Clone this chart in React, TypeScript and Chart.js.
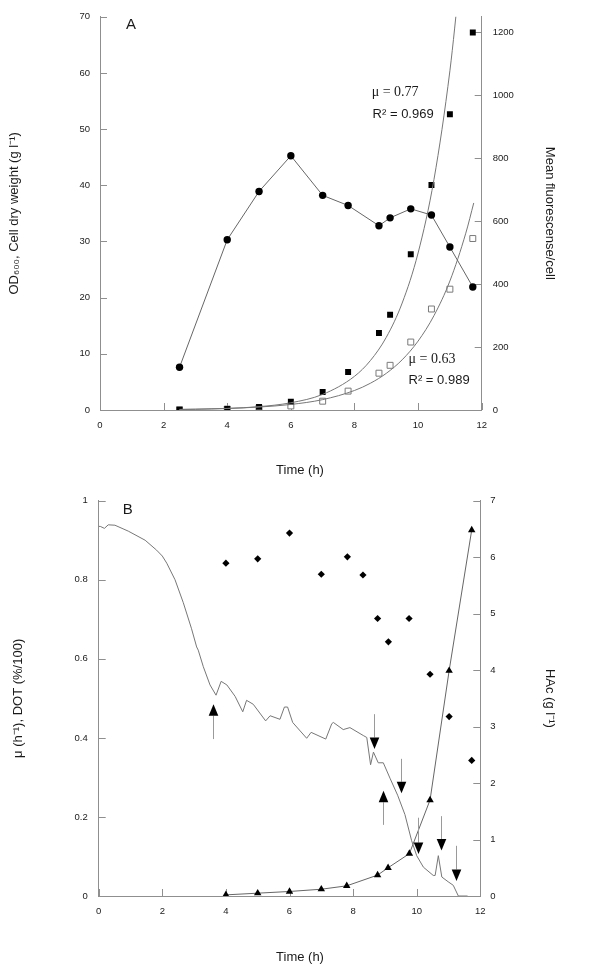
import React, { useEffect, useRef } from 'react';
import { Chart, registerables } from 'chart.js';

Chart.register(...registerables);

const SANS = "'Liberation Sans', Arial, sans-serif";
const SERIF = "'Liberation Serif', 'Times New Roman', serif";
const AXIS = '#8f8f8f';
const TEXT = '#1a1a1a';

// ---------- Panel A data ----------
const timeA = [2.5, 4, 5, 6, 7, 7.8, 8.77, 9.12, 9.77, 10.42, 11.0, 11.72];
const cellDryWeight = [7.6, 30.3, 38.9, 45.25, 38.2, 36.4, 32.8, 34.2, 35.8, 34.7, 29.0, 21.9];
const fluorFilled = [1, 3, 10, 26, 57, 121, 245, 303, 495, 715, 940, 1200];
const fluorOpen = [1, 3, 7, 13, 28, 60, 117, 142, 216, 321, 384, 545];
const fitTimeFilled = [2.5, 3, 4, 5, 6, 7, 8, 8.5, 9, 9.5, 10, 10.5, 11, 11.3];
const fitFilled = [1.55, 2.28, 4.9, 10.6, 23, 49.6, 107, 157, 231, 340, 499, 733, 1078, 1359];
const fitTimeOpen = [2.5, 3, 4, 5, 6, 7, 8, 8.5, 9, 9.5, 10, 10.5, 11, 11.5, 11.75];
const fitOpen = [1.94, 2.66, 5.0, 9.4, 17.6, 33, 62, 85, 116.5, 159.6, 219, 300, 410, 562, 658];

// ---------- Panel B data ----------
const timeMu = [4, 5, 6, 7, 7.82, 8.31, 8.77, 9.11, 9.76, 10.42, 11.02, 11.73];
const mu = [0.842, 0.853, 0.918, 0.814, 0.858, 0.812, 0.702, 0.643, 0.702, 0.561, 0.454, 0.343];
const timeHAc = [4, 5, 6, 7, 7.8, 8.77, 9.1, 9.77, 10.42, 11.02, 11.73];
const hac = [0.02, 0.05, 0.08, 0.12, 0.18, 0.37, 0.5, 0.75, 1.7, 3.99, 6.48];
const timeDOT = [0, 0.05, 0.18, 0.3, 0.51, 0.93, 1.46, 1.82, 2.0, 2.14, 2.4, 2.66, 2.92, 3.08, 3.13, 3.29, 3.5, 3.69, 3.85, 4.03, 4.29, 4.53, 4.65, 4.86, 5.25, 5.39, 5.7, 5.84, 5.94, 6.1, 6.54, 6.68, 7.14, 7.33, 7.38, 7.69, 7.9, 8.32, 8.43, 8.55, 8.64, 8.79, 8.95, 9.16, 9.4, 9.63, 9.84, 10.0, 10.21, 10.52, 10.58, 10.68, 10.79, 10.99, 11.15, 11.31, 11.6];
const dot = [0.935, 0.935, 0.93, 0.939, 0.938, 0.923, 0.9, 0.875, 0.86, 0.842, 0.8, 0.742, 0.676, 0.63, 0.622, 0.58, 0.534, 0.508, 0.543, 0.534, 0.505, 0.466, 0.495, 0.485, 0.443, 0.456, 0.447, 0.478, 0.478, 0.439, 0.399, 0.414, 0.397, 0.436, 0.439, 0.421, 0.426, 0.406, 0.401, 0.332, 0.364, 0.337, 0.337, 0.298, 0.255, 0.206, 0.14, 0.102, 0.073, 0.052, 0.052, 0.102, 0.048, 0.036, 0.027, 0.0, 0.0];
// arrows (time, from, to) on left axis of panel B
const arrowTime = [3.6, 8.93, 8.66, 9.5, 10.05, 10.76, 11.23];
const arrowFrom = [0.397, 0.18, 0.46, 0.347, 0.198, 0.202, 0.127];
const arrowTo = [0.485, 0.266, 0.372, 0.26, 0.106, 0.115, 0.038];

// text notes
const notesA = [
  { text: 'A', x: 0.82, y: 68.5, font: `15px ${SANS}` },
  { text: 'μ = 0.77', x: 8.54, y: 56.6, font: `14px ${SERIF}` },
  { text: 'R² = 0.969', x: 8.57, y: 52.65, font: `13px ${SANS}` },
  { text: 'μ = 0.63', x: 9.7, y: 9.08, font: `14px ${SERIF}` },
  { text: 'R² = 0.989', x: 9.7, y: 5.24, font: `13px ${SANS}` },
];
const notesB = [{ text: 'B', x: 0.755, y: 0.978, font: `15px ${SANS}` }];

const pts = (xs: number[], ys: number[]) => xs.map((x, i) => ({ x, y: ys[i] }));

const inwardTicks = {
  id: 'inwardTicks',
  beforeDatasetsDraw(chart: any) {
    const ctx = chart.ctx;
    const len = 7;
    ctx.save();
    ctx.strokeStyle = AXIS;
    ctx.lineWidth = 1;
    Object.values(chart.scales).forEach((s: any) => {
      s.ticks.forEach((t: any) => {
        const p = Math.round(s.getPixelForValue(t.value)) + 0.5;
        ctx.beginPath();
        if (s.axis === 'x') {
          const y = s.top;
          ctx.moveTo(p, y);
          ctx.lineTo(p, y - len);
        } else if (s.position === 'left') {
          const x = s.right;
          ctx.moveTo(x, p);
          ctx.lineTo(x + len, p);
        } else {
          const x = s.left;
          ctx.moveTo(x, p);
          ctx.lineTo(x - len, p);
        }
        ctx.stroke();
      });
    });
    ctx.restore();
  },
};

const makeNotes = (notes: { text: string; x: number; y: number; font: string }[]) => ({
  id: 'notes',
  afterDatasetsDraw(chart: any) {
    const ctx = chart.ctx;
    ctx.save();
    ctx.fillStyle = TEXT;
    ctx.textAlign = 'left';
    ctx.textBaseline = 'middle';
    notes.forEach((n) => {
      ctx.font = n.font;
      ctx.fillText(n.text, chart.scales.x.getPixelForValue(n.x), chart.scales.y.getPixelForValue(n.y));
    });
    ctx.restore();
  },
});

const arrowsPlugin = {
  id: 'arrows',
  afterDatasetsDraw(chart: any) {
    const ctx = chart.ctx;
    const xs = chart.scales.x;
    const ys = chart.scales.y;
    ctx.save();
    arrowTime.forEach((t, i) => {
      const px = xs.getPixelForValue(t);
      const p0 = ys.getPixelForValue(arrowFrom[i]);
      const p1 = ys.getPixelForValue(arrowTo[i]);
      const dir = p1 < p0 ? -1 : 1;
      const headLen = 11.5;
      const headW = 4.8;
      const base = p1 - dir * headLen;
      const lx = Math.round(px) + 0.5;
      ctx.strokeStyle = '#9a9a9a';
      ctx.lineWidth = 1;
      ctx.beginPath();
      ctx.moveTo(lx, p0);
      ctx.lineTo(lx, base);
      ctx.stroke();
      ctx.fillStyle = '#000';
      ctx.beginPath();
      ctx.moveTo(lx, p1);
      ctx.lineTo(lx - headW, base);
      ctx.lineTo(lx + headW, base);
      ctx.closePath();
      ctx.fill();
    });
    ctx.restore();
  },
};

const tickFont = { family: SANS, size: 9.5 };
const titleFont = { family: SANS, size: 13, weight: 'normal' as const };

function baseX(height: number) {
  return {
    type: 'linear' as const,
    min: 0,
    max: 12,
    ticks: { stepSize: 2, padding: 10, font: tickFont, color: TEXT },
    grid: { display: false, drawTicks: false },
    border: { display: true, color: AXIS, width: 1 },
    afterFit(s: any) {
      s.height = height;
    },
  };
}

function yScale(opts: any) {
  return {
    type: 'linear' as const,
    position: opts.position,
    min: opts.min,
    max: opts.max,
    ticks: {
      stepSize: opts.step,
      padding: opts.pad,
      includeBounds: false,
      font: tickFont,
      color: TEXT,
      callback: (v: any) => String(Math.round(v * 1000) / 1000),
    },
    grid: { display: false, drawTicks: false },
    border: { display: true, color: AXIS, width: 1 },
    title: { display: true, text: opts.title, font: titleFont, color: TEXT, padding: { top: opts.tpad, bottom: 0 } },
    afterFit(s: any) {
      s.width = opts.width;
    },
  };
}

export default function App() {
  const refA = useRef<HTMLCanvasElement>(null);
  const refB = useRef<HTMLCanvasElement>(null);

  useEffect(() => {
    Chart.defaults.font.family = SANS;
    const chartA = new Chart(refA.current!, {
      type: 'line',
      data: {
        datasets: [
          {
            label: 'OD600 / CDW',
            data: pts(timeA, cellDryWeight),
            yAxisID: 'y',
            borderColor: '#666',
            borderWidth: 1,
            pointStyle: 'circle',
            pointRadius: 3.7,
            pointBackgroundColor: '#000',
            pointBorderColor: '#000',
            pointBorderWidth: 0,
          },
          {
            label: 'fit filled',
            data: pts(fitTimeFilled, fitFilled),
            yAxisID: 'y2',
            borderColor: '#777',
            borderWidth: 1,
            pointRadius: 0,
            cubicInterpolationMode: 'monotone',
          },
          {
            label: 'fit open',
            data: pts(fitTimeOpen, fitOpen),
            yAxisID: 'y2',
            borderColor: '#777',
            borderWidth: 1,
            pointRadius: 0,
            cubicInterpolationMode: 'monotone',
          },
          {
            label: 'fluorescence filled',
            data: pts(timeA, fluorFilled),
            yAxisID: 'y2',
            showLine: false,
            pointStyle: 'rect',
            pointRadius: 4.2,
            pointBackgroundColor: '#000',
            pointBorderColor: '#000',
            pointBorderWidth: 0,
          },
          {
            label: 'fluorescence open',
            data: pts(timeA, fluorOpen),
            yAxisID: 'y2',
            showLine: false,
            pointStyle: 'rect',
            pointRadius: 4.2,
            pointBackgroundColor: '#fff',
            pointBorderColor: '#7a7a7a',
            pointBorderWidth: 1,
          },
        ],
      },
      options: {
        responsive: false,
        animation: false,
        layout: { padding: { top: 9, left: 0, right: 0, bottom: 0 } },
        plugins: {
          legend: { display: false },
          tooltip: { enabled: false },
          title: {
            display: true,
            position: 'bottom',
            text: 'Time (h)',
            font: titleFont,
            color: TEXT,
            padding: { top: 0, bottom: 6 },
          },
        },
        scales: {
          x: baseX(52.4),
          y: yScale({ position: 'left', min: 0, max: 70, step: 10, pad: 10, title: 'OD₆₀₀, Cell dry weight (g l⁻¹)', tpad: 7, width: 100 }),
          y2: yScale({ position: 'right', min: 0, max: 1250, step: 200, pad: 11, title: 'Mean fluorescense/cell', tpad: 42.5, width: 118.3 }),
        },
      } as any,
      plugins: [inwardTicks, makeNotes(notesA)],
    });

    const chartB = new Chart(refB.current!, {
      type: 'line',
      data: {
        datasets: [
          {
            label: 'DOT',
            data: pts(timeDOT, dot),
            yAxisID: 'y',
            borderColor: '#777',
            borderWidth: 1,
            pointRadius: 0,
          },
          {
            label: 'mu',
            data: pts(timeMu, mu),
            yAxisID: 'y',
            showLine: false,
            pointStyle: 'rectRot',
            pointRadius: 3.6,
            pointBackgroundColor: '#000',
            pointBorderColor: '#000',
            pointBorderWidth: 0,
          },
          {
            label: 'HAc',
            data: pts(timeHAc, hac),
            yAxisID: 'y2',
            borderColor: '#666',
            borderWidth: 1,
            pointStyle: 'triangle',
            pointRadius: 4.3,
            pointBackgroundColor: '#000',
            pointBorderColor: '#000',
            pointBorderWidth: 0,
          },
        ],
      },
      options: {
        responsive: false,
        animation: false,
        layout: { padding: { top: 11, left: 0, right: 0, bottom: 0 } },
        plugins: {
          legend: { display: false },
          tooltip: { enabled: false },
          title: {
            display: true,
            position: 'bottom',
            text: 'Time (h)',
            font: titleFont,
            color: TEXT,
            padding: { top: 0, bottom: 3.5 },
          },
        },
        scales: {
          x: baseX(53.9),
          y: yScale({ position: 'left', min: 0, max: 1, step: 0.2, pad: 11, title: 'μ (h⁻¹), DOT (%/100)', tpad: 11, width: 98.7 }),
          y2: yScale({ position: 'right', min: 0, max: 7, step: 1, pad: 10, title: 'HAc (g l⁻¹)', tpad: 42.5, width: 119.7 }),
        },
      } as any,
      plugins: [inwardTicks, arrowsPlugin, makeNotes(notesB)],
    });

    return () => {
      chartA.destroy();
      chartB.destroy();
    };
  }, []);

  return (
    <div style={{ position: 'absolute', left: 0, top: 0, width: 600, height: 969, background: '#fff' }}>
      <canvas ref={refA} width={600} height={484} style={{ display: 'block', width: 600, height: 484 }} />
      <canvas ref={refB} width={600} height={485} style={{ display: 'block', width: 600, height: 485 }} />
    </div>
  );
}
